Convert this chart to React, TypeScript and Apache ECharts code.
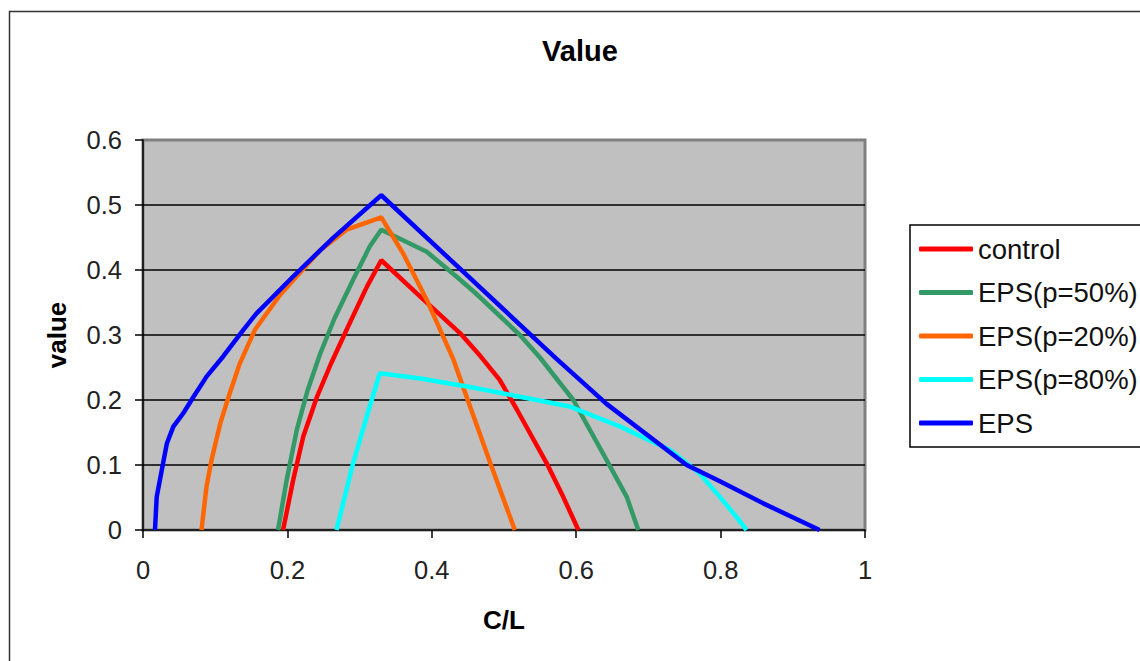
import React, { useEffect, useRef } from "react";
import * as echarts from "echarts";

const seriesNames = ["control", "EPS(p=50%)", "EPS(p=20%)", "EPS(p=80%)", "EPS"];
const seriesColors = ["#FF0000", "#339966", "#FF6600", "#00FFFF", "#0000FF"];

const controlData: [number, number][] = [
  [0.194, 0], [0.208, 0.077], [0.222, 0.144], [0.241, 0.205], [0.26, 0.255],
  [0.282, 0.308], [0.31, 0.374], [0.33, 0.415], [0.384, 0.359], [0.439, 0.303],
  [0.467, 0.268], [0.494, 0.231], [0.518, 0.185], [0.559, 0.103],
  [0.582, 0.051], [0.603, 0],
];
const eps50Data: [number, number][] = [
  [0.187, 0], [0.199, 0.077], [0.213, 0.154], [0.228, 0.215], [0.245, 0.27],
  [0.265, 0.325], [0.291, 0.385], [0.314, 0.436], [0.33, 0.462], [0.393, 0.428],
  [0.434, 0.39], [0.46, 0.365], [0.522, 0.3], [0.55, 0.265], [0.596, 0.2],
  [0.642, 0.108], [0.67, 0.051], [0.686, 0],
];
const eps20Data: [number, number][] = [
  [0.081, 0], [0.088, 0.067], [0.095, 0.108], [0.107, 0.164], [0.12, 0.21],
  [0.134, 0.256], [0.155, 0.308], [0.19, 0.362], [0.245, 0.43], [0.282, 0.462],
  [0.33, 0.481], [0.36, 0.426], [0.393, 0.354], [0.416, 0.297], [0.43, 0.262],
  [0.453, 0.19], [0.481, 0.103], [0.515, 0],
];
const eps80Data: [number, number][] = [
  [0.268, 0], [0.291, 0.103], [0.314, 0.19], [0.328, 0.241], [0.384, 0.233],
  [0.453, 0.22], [0.522, 0.205], [0.591, 0.19], [0.661, 0.159], [0.73, 0.123],
  [0.771, 0.087], [0.799, 0.051], [0.822, 0.02], [0.836, 0],
];
const epsData: [number, number][] = [
  [0.0166, 0], [0.019, 0.051], [0.026, 0.092], [0.033, 0.133], [0.042, 0.159],
  [0.056, 0.18], [0.07, 0.205], [0.088, 0.236], [0.111, 0.267], [0.139, 0.308],
  [0.157, 0.333], [0.208, 0.39], [0.263, 0.449], [0.33, 0.515], [0.439, 0.402],
  [0.572, 0.264], [0.642, 0.194], [0.753, 0.1], [0.799, 0.075], [0.859, 0.041],
  [0.937, 0],
];
const allData = [controlData, eps50Data, eps20Data, eps80Data, epsData];

const FONT = "'Liberation Sans', Arial, sans-serif";

export default function App() {
  const ref = useRef<HTMLDivElement>(null);
  useEffect(() => {
    if (!ref.current) return;
    const chart = echarts.init(ref.current, undefined, { renderer: "svg" });
    chart.setOption({
      animation: false,
      backgroundColor: "#ffffff",
      title: {
        text: "Value",
        left: "center",
        top: 31,
        textStyle: { fontFamily: FONT, fontSize: 29, fontWeight: "bold", color: "#000" },
      },
      graphic: [
        {
          type: "rect",
          shape: { x: 9.5, y: 11.5, width: 1400, height: 900 },
          style: { fill: "none", stroke: "#333", lineWidth: 1.5 },
          z: 100,
          silent: true,
        },
      ],
      legend: {
        orient: "vertical",
        left: 910,
        top: 225,
        padding: [10, 10, 10, 9],
        backgroundColor: "#fff",
        borderColor: "#000",
        borderWidth: 1.5,
        itemWidth: 54,
        itemHeight: 5,
        itemGap: 15.5,
        icon: "roundRect",
        textStyle: { fontFamily: FONT, fontSize: 27.5, color: "#111" },
        data: seriesNames,
      },
      grid: {
        left: 143,
        top: 140,
        width: 722,
        height: 390,
        show: true,
        backgroundColor: "#C0C0C0",
        borderColor: "#808080",
        borderWidth: 3,
      },
      xAxis: {
        type: "value",
        min: 0,
        max: 1,
        interval: 0.2,
        name: "C/L",
        nameLocation: "middle",
        nameGap: 77,
        nameTextStyle: { fontFamily: FONT, fontSize: 26, fontWeight: "bold", color: "#000" },
        axisLine: { show: true, lineStyle: { color: "#000", width: 1.5 } },
        axisTick: { show: true, length: 8, lineStyle: { color: "#000", width: 1.5 } },
        axisLabel: { fontFamily: FONT, fontSize: 25.5, color: "#222", margin: 27 },
        splitLine: { show: false },
      },
      yAxis: {
        type: "value",
        min: 0,
        max: 0.6,
        interval: 0.1,
        name: "value",
        nameLocation: "middle",
        nameGap: 73,
        nameTextStyle: { fontFamily: FONT, fontSize: 26, fontWeight: "bold", color: "#000" },
        axisLine: { show: true, lineStyle: { color: "#000", width: 1.5 } },
        axisTick: { show: true, length: 8, lineStyle: { color: "#000", width: 1.5 } },
        axisLabel: { fontFamily: FONT, fontSize: 25.5, color: "#222", margin: 21 },
        splitLine: { show: true, showMaxLine: false, showMinLine: false, lineStyle: { color: "#000", width: 1.5 } },
      },
      series: seriesNames.map((name, i) => ({
        name,
        type: "line",
        data: allData[i],
        showSymbol: false,
        symbol: "none",
        color: seriesColors[i],
        lineStyle: { color: seriesColors[i], width: 4.5 },
        itemStyle: { color: seriesColors[i] },
        clip: true,
      })),
    });
    return () => chart.dispose();
  }, []);
  return (
    <div
      ref={ref}
      style={{ position: "fixed", left: 0, top: 0, width: 1160, height: 680 }}
    />
  );
}
